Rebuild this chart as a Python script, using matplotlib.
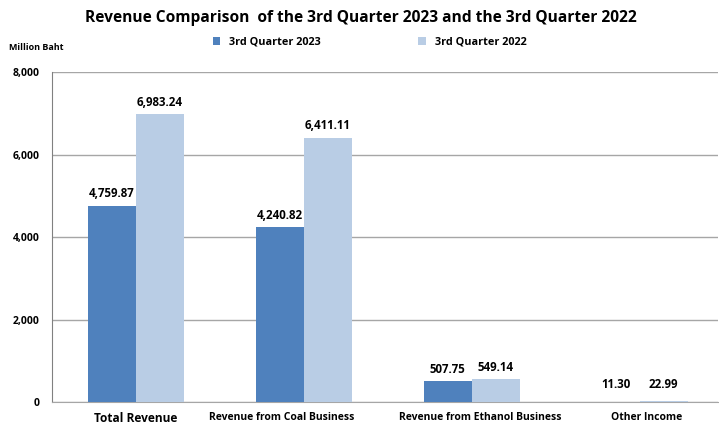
import matplotlib.pyplot as plt
import matplotlib.transforms as mtransforms
import numpy as np

plt.rcParams['font.family'] = ['Open Sans', 'DejaVu Sans']

categories = ["Total Revenue", "Revenue from Coal Business",
              "Revenue from Ethanol Business", "Other Income"]
q3_2023 = [4759.87, 4240.82, 507.75, 11.30]
q3_2022 = [6983.24, 6411.11, 549.14, 22.99]
series_names = ["3rd Quarter 2023", "3rd Quarter 2022"]
colors = ["#4F81BD", "#B9CDE5"]

fig = plt.figure(figsize=(7.19, 4.30), dpi=100)
ax = fig.add_axes([0.0723, 0.065, 0.926, 0.767])

x = np.arange(len(categories))
w = 0.286
b1 = ax.bar(x - w / 2, q3_2023, w, color=colors[0], label=series_names[0], zorder=3)
b2 = ax.bar(x + w / 2, q3_2022, w, color=colors[1], label=series_names[1], zorder=3)

for bars, vals in [(b1, q3_2023), (b2, q3_2022)]:
    for r, v in zip(bars, vals):
        ax.text(r.get_x() + r.get_width() / 2, max(v, 150) + 130, f"{v:,.2f}",
                ha="center", va="bottom", fontsize=8.3, fontweight="bold")

ax.set_xlim(-0.5, 3.465)
ax.set_ylim(0, 8000)
ax.set_yticks(range(0, 8001, 2000))
ax.set_yticklabels([f"{t:,}" for t in range(0, 8001, 2000)], fontsize=7.5, fontweight="bold")
ax.yaxis.grid(True, color="#a6a6a6", linewidth=1, zorder=0)
ax.set_xticks(x)
ax.set_xticklabels(categories, fontsize=7.5, fontweight="bold")
ax.tick_params(axis="x", length=0, pad=7)
ax.tick_params(axis="y", length=0, pad=9)
# small horizontal nudges of category labels, as in the original
shifts = [0, -22, 8, 7]
for lbl, dx in zip(ax.get_xticklabels(), shifts):
    lbl.set_transform(lbl.get_transform() + mtransforms.ScaledTranslation(dx / 100, 0, fig.dpi_scale_trans))
ax.get_xticklabels()[0].set_fontsize(8.6)
for s in ["top", "right"]:
    ax.spines[s].set_visible(False)
ax.spines["left"].set_color("#808080")
ax.spines["bottom"].set_color("#a6a6a6")

fig.text(0.502, 0.957, "Revenue Comparison  of the 3rd Quarter 2023 and the 3rd Quarter 2022",
         ha="center", va="center", fontsize=11.2, fontweight="bold")
fig.text(0.012, 0.883, "Million Baht", fontsize=6.5, fontweight="bold")
fig.legend(loc="center", bbox_to_anchor=(0.514, 0.902), ncol=2, frameon=False,
           handlelength=0.7, handleheight=0.7, columnspacing=9,
           prop={"weight": "bold", "size": 7.8})

fig.savefig("out.png", dpi=100)
